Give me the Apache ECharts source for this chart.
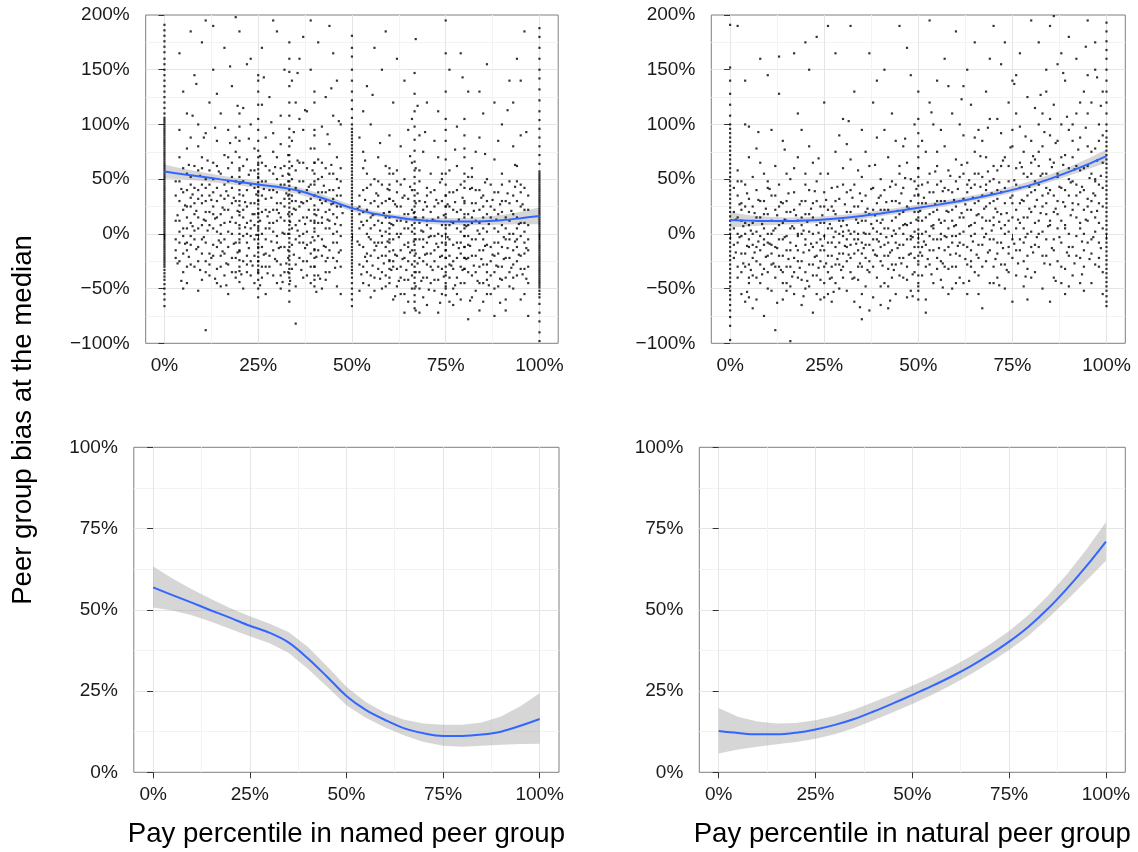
<!DOCTYPE html>
<html>
<head>
<meta charset="utf-8">
<script src="https://cdn.jsdelivr.net/npm/echarts@6/dist/echarts.min.js"></script>
<style>html,body{margin:0;padding:0;background:#fff;}#chart{width:1138px;height:852px;}</style>
</head>
<body>
<div id="chart"></div>
<script>
// ---------- tick labels ----------
const xTicks = [0, 25, 50, 75, 100];
const xTitles = ['Pay percentile in named peer group', 'Pay percentile in natural peer group'];
const yTitle = 'Peer group bias at the median';

// ---------- smoothed fit (percent) ----------
const smoothX = [0,5,10,15,20,25,30,35,40,45,50,55,60,65,70,75,80,85,90,95,100];
const namedFit   = [56.9,54.5,52.2,49.8,47.5,45.1,43.0,40.0,35.1,29.4,23.5,19.2,16.1,13.5,12.0,11.2,11.2,11.6,12.5,14.3,16.4];
const namedLower = [50.7,49.8,48.3,46.3,44.1,41.9,39.8,36.8,31.9,26.3,20.6,16.8,13.8,11.3,9.3,8.2,7.9,8.2,8.5,8.7,8.8];
const namedUpper = [63.3,59.6,56.3,53.3,50.5,48.0,45.8,43.2,38.6,32.6,26.3,21.6,18.3,16.2,15.0,14.6,14.6,15.3,17.2,20.3,24.3];
const naturalFit   = [12.7,12.1,11.7,11.7,12.2,13.2,14.6,16.4,18.7,21.2,23.8,26.5,29.4,32.6,36.2,40.2,44.8,50.3,56.6,63.5,71.0];
const naturalLower = [5.8,7.0,7.9,8.6,9.3,10.3,11.7,13.6,16.0,18.5,21.0,23.8,26.8,30.1,33.7,37.6,42.0,47.3,53.0,59.0,65.1];
const naturalUpper = [19.8,17.1,15.6,15.0,15.2,16.0,17.4,19.3,21.6,24.0,26.6,29.3,32.3,35.6,39.3,43.5,48.4,54.3,61.0,68.6,77.0];

// ---------- scatter: named peer group ----------
const namedCloud = [
[3,12],[3,-22],[3,48],[4,30],[4,-8],[4,95],[4,165],[5,22],[5,-35],[5,60],[5,5],[5,130],[6,-15],[6,40],[6,15],[6,78],[6,-45],[7,-2],[7,33],[7,185],[7,52],[7,-28],[4,70],[6,110],[3,-5],[5,-50],[7,10],[6,25],[4,2],[7,88],
[8,18],[8,-30],[8,62],[8,145],[9,5],[9,40],[9,-12],[9,100],[10,28],[10,-42],[10,70],[10,-5],[10,175],[11,12],[11,50],[11,-25],[11,-88],[11,92],[12,35],[12,-18],[12,8],[12,120],[12,58],[9,-52],[8,3],[10,45],[11,195],[12,-38],[9,80],[11,20],
[13,25],[13,-10],[13,65],[13,150],[14,2],[14,42],[14,-32],[14,85],[15,18],[15,55],[15,-20],[15,-48],[15,110],[16,32],[16,-5],[16,72],[16,170],[16,10],[17,48],[17,-28],[17,22],[17,95],[17,-55],[14,128],[13,38],[15,0],[16,-38],[17,60],[14,15],[13,190],
[18,15],[18,-22],[18,52],[18,135],[19,30],[19,-8],[19,75],[19,-40],[20,20],[20,40],[20,-15],[20,98],[20,185],[20,5],[20,60],[20,-30],[21,35],[21,-2],[21,115],[21,-50],[22,25],[22,68],[22,-20],[22,155],[22,10],[19,88],[18,0],[21,48],[22,-35],[19,198],
[23,12],[23,45],[23,-25],[23,100],[24,28],[24,-5],[24,78],[24,-45],[25,18],[25,52],[25,-12],[25,140],[26,35],[26,0],[26,65],[26,-30],[26,170],[27,22],[27,-18],[27,88],[27,48],[27,-55],[24,8],[23,160],[25,-35],[26,118],[27,5],[24,58],[23,-2],[25,30],
[28,20],[28,-20],[28,58],[28,125],[29,2],[29,40],[29,-38],[29,92],[30,28],[30,-8],[30,70],[30,185],[30,12],[31,45],[31,-28],[31,15],[31,108],[31,-50],[32,32],[32,-12],[32,62],[32,150],[32,0],[29,75],[28,5],[30,-45],[31,82],[32,25],[29,195],[30,50],
[33,18],[33,-15],[33,55],[34,30],[34,-32],[34,85],[34,5],[35,42],[35,-5],[35,120],[35,22],[35,-48],[36,12],[36,65],[36,-22],[36,160],[36,38],[37,0],[37,48],[37,-40],[37,95],[37,28],[34,140],[33,72],[35,-82],[36,-8],[37,180],[33,-35],[34,50],[36,105],
[38,15],[38,-25],[38,60],[38,112],[39,32],[39,-8],[39,78],[39,-45],[40,22],[40,-15],[40,48],[40,5],[40,130],[40,-30],[40,90],[41,38],[41,-2],[41,68],[41,175],[42,10],[42,-20],[42,52],[42,-50],[42,98],[39,195],[38,40],[41,-38],[42,28],[39,150],[40,65],
[43,20],[43,-12],[43,60],[43,125],[44,5],[44,40],[44,-35],[44,82],[45,28],[45,-22],[45,0],[45,165],[45,55],[46,15],[46,-8],[46,70],[46,-48],[46,35],[47,25],[47,-30],[47,48],[47,100],[44,190],[43,-42],[45,108],[46,140],[47,8],[44,22],[43,38],[47,-55],
[52,5],[52,-28],[52,35],[52,88],[53,-12],[53,20],[53,-45],[53,60],[54,0],[54,-35],[54,42],[54,135],[54,12],[55,-20],[55,28],[55,-5],[55,-58],[55,100],[56,8],[56,-40],[56,50],[56,-15],[56,170],[53,75],[52,-52],[54,-25],[55,15],[56,30],[53,112],[52,18],
[57,-8],[57,25],[57,-32],[57,70],[58,10],[58,-20],[58,45],[58,-50],[58,150],[59,2],[59,-38],[59,30],[59,-12],[60,15],[60,-25],[60,-5],[60,40],[60,-45],[60,90],[60,20],[61,-15],[61,8],[61,55],[61,-60],[61,120],[58,-2],[59,62],[57,48],[61,-30],[59,185],
[62,-20],[62,12],[62,38],[62,-48],[63,0],[63,-30],[63,25],[63,80],[64,-10],[64,18],[64,-42],[64,50],[64,140],[65,5],[65,-25],[65,32],[65,-62],[65,-8],[66,-15],[66,22],[66,-38],[66,65],[66,105],[63,-55],[62,58],[64,-72],[65,95],[66,2],[63,45],[62,160],
[67,-5],[67,28],[67,-35],[67,-70],[68,10],[68,-22],[68,48],[68,-50],[69,-12],[69,15],[69,-40],[69,75],[69,2],[70,-28],[70,35],[70,-8],[70,-65],[70,120],[71,20],[71,-18],[71,55],[71,-45],[68,90],[67,60],[69,-58],[70,8],[71,-2],[68,-72],[67,178],[70,42],
[72,-15],[72,12],[72,-42],[72,40],[73,0],[73,-30],[73,28],[73,70],[74,-20],[74,8],[74,-55],[74,50],[75,-10],[75,18],[75,-35],[75,5],[75,-48],[75,35],[75,95],[75,-22],[76,-5],[76,25],[76,-62],[76,58],[76,150],[73,-72],[74,-2],[72,85],[73,112],[76,-28],
[77,10],[77,-25],[77,38],[77,-50],[78,-8],[78,20],[78,-40],[78,62],[79,2],[79,-18],[79,45],[79,-60],[80,-12],[80,15],[80,-32],[80,28],[80,-2],[80,-45],[80,78],[81,8],[81,-22],[81,52],[81,-78],[81,130],[78,98],[79,-30],[77,-65],[80,105],[79,165],[81,-10],
[82,-5],[82,28],[82,-38],[82,60],[83,12],[83,-20],[83,-52],[83,40],[84,0],[84,-30],[84,22],[84,88],[85,-15],[85,35],[85,-45],[85,5],[85,-62],[85,110],[86,-10],[86,18],[86,-28],[86,50],[86,155],[83,75],[84,-70],[82,-58],[85,25],[86,-42],[84,130],[82,10],
[87,15],[87,-25],[87,45],[87,-55],[88,-8],[88,22],[88,-35],[88,-75],[88,68],[89,2],[89,-18],[89,38],[89,-48],[90,-12],[90,20],[90,-30],[90,55],[90,100],[91,5],[91,-40],[91,30],[91,-60],[92,-5],[92,12],[92,-22],[92,48],[92,140],[89,85],[88,120],[91,-70],
[93,0],[93,-28],[93,35],[93,-50],[94,15],[94,-12],[94,62],[94,-38],[94,160],[95,-2],[95,25],[95,-60],[95,-20],[95,90],[96,10],[96,-32],[96,42],[96,-8],[96,185],[97,-15],[97,22],[97,-45],[97,-75],[93,120],[95,45],[96,-55],[94,5],[93,80],[97,8],[95,140]
];
const namedCore = [
[3,35],[3,-15],[4,12],[4,48],[4,-25],[5,38],[5,-2],[6,5],[6,-30],[6,55],[7,25],[7,-10],[8,42],[8,-5],[8,28],[9,15],[9,-25],[9,58],[10,8],[10,35],[10,-18],[11,42],[11,-8],[11,30],[12,20],[12,-28],[12,45],[13,5],[13,-20],[13,50],[14,30],[14,-12],[14,62],[15,8],[15,35],[15,-30],[16,45],[16,-18],[16,22],[17,2],[17,35],[17,-12],[18,28],[18,-35],[18,65],[19,10],[19,48],[19,-22],[20,30],[20,-5],[20,52],[21,15],[21,-25],[21,62],[22,40],[22,-8],[22,0],[23,28],[23,-38],[23,58],[24,18],[24,42],[24,-20],[25,5],[25,38],[25,-25],[26,48],[26,-12],[26,20],[27,32],[27,-5],[27,62],[28,10],[28,40],[28,-30],[29,22],[29,-15],[29,55],[30,-2],[30,38],[30,-25],[31,28],[31,60],[31,-12],[32,12],[32,45],[32,-35],[33,35],[33,0],[33,-22],[34,18],[34,62],[34,-10],[35,30],[35,-28],[35,8],[36,48],[36,-2],[36,25],[37,15],[37,-25],[37,65],[38,30],[38,-10],[38,2],[39,45],[39,12],[39,-30],[40,35],[40,-42],[40,12],[41,22],[41,-15],[41,50],[42,38],[42,-5],[42,65],[43,5],[43,30],[43,-25],[44,55],[44,-15],[44,12],[45,40],[45,-8],[45,18],[46,-25],[46,50],[46,2],[47,35],[47,-15],[47,60],[5,-18],[7,45],[9,32],[11,-35],[13,18],[15,-8],[17,70],[19,-35],[21,22],[23,5],[25,65],[27,-30],[29,10],[31,-38],[33,48],[35,58],[37,-8],[39,-18],[41,10],[43,-35],[45,32],[47,-2],[6,-8],[10,60],[14,-45],[18,42],[22,-28],[26,-40],[30,22],[34,35],[38,-38],[42,15],[46,25],
[52,-10],[52,25],[53,-30],[53,8],[53,40],[54,-18],[54,22],[55,-38],[55,5],[55,45],[56,-8],[56,18],[57,-22],[57,12],[57,35],[58,-35],[58,28],[59,-20],[59,15],[59,-48],[60,5],[60,32],[61,-25],[61,-5],[61,30],[62,-32],[62,0],[62,25],[63,-15],[63,12],[63,-40],[64,5],[64,35],[64,-22],[65,-12],[65,18],[65,-42],[66,8],[66,-28],[66,40],[67,-18],[67,15],[67,-48],[68,-5],[68,30],[68,-35],[69,22],[69,-25],[69,-5],[70,12],[70,-40],[70,25],[71,-30],[71,5],[71,38],[72,-2],[72,-25],[72,25],[73,-12],[73,15],[73,-42],[74,30],[74,-32],[74,-8],[75,25],[75,-15],[76,8],[76,-40],[76,38],[77,-10],[77,22],[77,-32],[78,5],[78,-22],[78,40],[79,-8],[79,22],[79,-45],[80,5],[80,-22],[81,18],[81,-35],[81,-2],[82,-20],[82,15],[82,42],[83,-5],[83,28],[83,-35],[84,10],[84,-15],[84,-45],[85,-28],[85,15],[85,-5],[86,30],[86,-35],[86,2],[87,-12],[87,25],[87,-38],[88,5],[88,-20],[88,38],[89,-30],[89,18],[89,-8],[90,8],[90,-42],[90,30],[91,-22],[91,15],[91,-5],[92,28],[92,-35],[92,0],[93,-15],[93,18],[93,-40],[94,-25],[94,30],[94,-5],[95,10],[95,-32],[95,38],[96,-18],[96,22],[97,-5],[97,-30],[97,35],[54,55],[58,-8],[62,48],[66,-50],[70,-18],[74,55],[78,-55],[82,52],[86,-55],[90,45],[94,48],[56,-52],[60,55],[64,-55],[68,58],[72,-52],[76,-20],[80,48],[84,40],[88,-50],[92,-48],[96,2]
];
const namedExtra = [
[3.5,17],[3.5,-27],[4.5,41],[5.5,-9],[5.5,26],[6.5,63],[6.5,-21],[7.5,7],[7.5,36],[8.5,-14],[8.5,21],[9.5,53],[9.5,-33],[10.5,13],[10.5,-3],[11.5,67],[11.5,3],[12.5,-22],[12.5,31],[13.5,-41],[13.5,14],[14.5,57],[14.5,-6],[15.5,24],[15.5,-16],[16.5,39],[16.5,-27],[17.5,11],[17.5,83],[18.5,-9],[18.5,33],[19.5,-17],[19.5,21],[20.5,47],[20.5,-37],[21.5,6],[21.5,29],[22.5,-13],[22.5,54],[23.5,18],[23.5,-29],[24.5,36],[24.5,-1],[25.5,71],[25.5,12],[26.5,-19],[26.5,41],[27.5,-36],[27.5,16],[28.5,33],[28.5,-7],[29.5,61],[29.5,-23],[30.5,19],[30.5,-13],[31.5,53],[31.5,1],[32.5,-27],[32.5,37],[33.5,11],[33.5,-43],[34.5,23],[34.5,-19],[35.5,67],[35.5,3],[36.5,-33],[36.5,29],[37.5,9],[37.5,-13],[38.5,43],[38.5,22],[39.5,-3],[39.5,58],[40.5,-21],[40.5,17],[41.5,31],[41.5,-41],[42.5,-11],[42.5,44],[43.5,13],[43.5,-22],[44.5,27],[44.5,63],[45.5,-31],[45.5,9],[46.5,42],[46.5,-17],[47.5,19],[4.5,-43],[7.5,108],[10.5,88],[13.5,97],[16.5,-47],[19.5,117],[22.5,87],[25.5,-47],[28.5,102],[31.5,-44],[34.5,93],[37.5,113],[40.5,-53],[43.5,91],[46.5,103],[8.5,137],[17.5,153],[26.5,143],[35.5,147],[44.5,133],
[51.5,-7],[51.5,23],[52.5,-37],[52.5,11],[53.5,31],[53.5,-21],[54.5,-3],[54.5,-47],[55.5,17],[55.5,-29],[56.5,37],[56.5,-11],[57.5,3],[57.5,-41],[58.5,19],[58.5,-27],[59.5,41],[59.5,-7],[60.5,-33],[60.5,9],[61.5,27],[61.5,-19],[62.5,-43],[62.5,-3],[63.5,33],[63.5,-23],[64.5,11],[64.5,-33],[65.5,-17],[65.5,43],[66.5,-7],[66.5,19],[67.5,-27],[67.5,37],[68.5,3],[68.5,-43],[69.5,29],[69.5,-19],[70.5,-3],[70.5,-51],[71.5,13],[71.5,-33],[72.5,31],[72.5,-9],[73.5,-21],[73.5,47],[74.5,17],[74.5,-39],[75.5,-3],[75.5,27],[76.5,-29],[76.5,11],[77.5,-47],[77.5,29],[78.5,-13],[78.5,13],[79.5,-33],[79.5,33],[80.5,-23],[80.5,7],[81.5,41],[81.5,-11],[82.5,-29],[82.5,21],[83.5,-43],[83.5,3],[84.5,33],[84.5,-23],[85.5,-11],[85.5,47],[86.5,-47],[86.5,9],[87.5,-19],[87.5,31],[88.5,-29],[88.5,13],[89.5,-41],[89.5,27],[90.5,-3],[90.5,-23],[91.5,37],[91.5,-13],[92.5,-31],[92.5,21],[93.5,-7],[93.5,43],[94.5,-19],[94.5,9],[95.5,-37],[95.5,27],[96.5,-13],[96.5,-41],[53.5,67],[57.5,83],[61.5,-57],[65.5,71],[69.5,93],[73.5,-63],[77.5,77],[81.5,-61],[85.5,73],[89.5,-63],[93.5,63],[96.5,93],[55.5,127],[67.5,117],[79.5,143],[91.5,113]
];
const namedColumnX = [0, 20, 25, 33.3, 40, 50, 60, 66.7, 75, 80, 100];
const namedCol0 = [191,186,181,176,171,166,160,155,150,145,140,135,130,125,120,115,110,106,104,102,100,98,96,94,92,90,88,86,84,82,80,78,76,74,72,70,68,66,64,62,60,58,56,54,52,50,48,46,44,42,40,38,36,34,32,30,28,26,24,22,20,18,16,14,12,10,8,6,4,2,0,-2,-4,-6,-8,-10,-12,-14,-16,-18,-20,-22,-24,-26,-28,-30,-33,-36,-39,-42,-46,-50,-55,-60,-66];
const namedCol20 = [110,85,70,58,46,36,26,17,8,0,-8,-16,-24,-34,-44];
const namedCol25 = [145,130,118,105,95,85,76,70,63,59,55,51,47,43,39,35,31,27,23,19,15,11,7,3,-1,-5,-9,-13,-17,-21,-25,-29,-33,-36,-42,-50,-58];
const namedCol33 = [175,160,148,135,120,108,96,88,80,72,66,60,54,48,44,40,36,32,28,24,20,16,12,8,4,0,-4,-8,-12,-16,-20,-24,-28,-32,-36,-40,-46,-52,-62];
const namedCol40 = [120,95,78,65,55,45,35,26,18,10,2,-6,-14,-22,-30,-38,-48];
const namedCol50 = [181,170,162,150,140,130,122,114,106,100,96,93,90,87,84,81,78,75,72,69,66,63,60,57,54,51,48,45,42,39,36,33,30,27,24,21,18,15,12,9,6,3,0,-3,-6,-9,-12,-15,-18,-21,-24,-27,-30,-33,-36,-40,-45,-50,-55,-60,-66];
const namedCol60 = [60,45,32,20,10,0,-8,-16,-24,-32,-40];
const namedCol67 = [147,128,112,98,86,76,66,58,52,46,40,35,30,25,20,15,10,5,0,-5,-10,-15,-20,-25,-30,-35,-40,-45,-50,-56,-62,-68];
const namedCol75 = [195,165,130,105,85,68,55,45,35,25,15,8,0,-8,-15,-22,-30,-38,-45,-50,-56];
const namedCol80 = [90,70,55,42,30,18,8,-2,-12,-22,-32];
const namedCol100 = [188,180,170,160,150,142,132,122,112,104,96,88,80,72,64,57,55,53,51,49,47,45,43,41,39,37,35,33,31,29,27,25,23,21,19,17,15,13,11,9,7,5,3,1,-1,-3,-5,-7,-9,-11,-13,-15,-17,-19,-21,-23,-25,-27,-29,-31,-33,-35,-37,-39,-41,-43,-45,-47,-49,-52,-55,-58,-64,-72,-80,-90,-98];

// ---------- scatter: natural peer group ----------
const naturalCloud = [
[1,5],[1,-22],[2,35],[2,-8],[2,58],[2,190],[3,-35],[3,12],[3,-55],[3,28],[4,0],[4,-18],[4,100],[4,45],[4,140],[5,-12],[5,20],[5,-40],[5,70],[5,-5],[2,-30],[3,48],[4,-62],[5,8],[1,42],[3,-2],[4,25],[5,-28],[2,15],[5,98],
[6,-10],[6,25],[6,-38],[6,52],[7,2],[7,-25],[7,40],[7,-60],[8,15],[8,-15],[8,65],[8,-45],[8,160],[9,-5],[9,30],[9,-32],[9,5],[10,-20],[10,18],[10,-50],[10,48],[10,145],[7,78],[6,-68],[9,-75],[8,-2],[10,-8],[6,10],[9,55],[7,-12],
[11,0],[11,-28],[11,35],[11,-52],[12,-12],[12,22],[12,-40],[12,62],[12,-88],[13,8],[13,-20],[13,45],[13,162],[14,-5],[14,28],[14,-35],[14,-60],[14,85],[15,12],[15,-15],[15,-45],[15,55],[15,-2],[11,95],[13,-30],[12,5],[14,10],[15,30],[11,-10],[13,128],
[16,-8],[16,20],[16,-30],[16,50],[16,-98],[17,5],[17,-22],[17,38],[17,-55],[17,165],[18,-15],[18,12],[18,-40],[18,70],[19,0],[19,-25],[19,30],[19,-65],[19,95],[20,-10],[20,18],[20,-35],[20,45],[20,175],[18,-2],[17,60],[16,-48],[19,8],[20,-50],[18,110],
[21,2],[21,-28],[21,40],[21,-48],[22,-12],[22,15],[22,-38],[22,65],[22,-72],[23,8],[23,-20],[23,30],[23,180],[24,-5],[24,25],[24,-42],[24,55],[24,-60],[25,10],[25,-15],[25,38],[25,-30],[25,120],[21,80],[23,-55],[22,0],[24,-25],[25,-2],[21,150],[23,48],
[26,-8],[26,22],[26,-35],[26,55],[27,5],[27,-20],[27,42],[27,-62],[28,-12],[28,18],[28,-45],[28,75],[28,165],[29,0],[29,-28],[29,32],[29,-8],[30,-18],[30,12],[30,-40],[30,60],[30,105],[27,-30],[26,-55],[29,90],[28,2],[30,-2],[27,25],[29,-50],[26,190],
[31,8],[31,-25],[31,38],[31,-52],[32,-10],[32,20],[32,-35],[32,68],[33,2],[33,-18],[33,45],[33,130],[33,-62],[34,-5],[34,25],[34,-42],[34,-15],[35,12],[35,-30],[35,52],[35,-78],[35,95],[32,0],[31,82],[34,58],[33,-40],[35,-8],[32,190],[34,10],[31,-5],
[36,0],[36,-22],[36,35],[36,-48],[37,-10],[37,18],[37,-35],[37,62],[38,5],[38,-15],[38,42],[38,-58],[38,120],[39,-5],[39,28],[39,-40],[39,88],[40,10],[40,-25],[40,50],[40,-12],[40,-65],[37,165],[36,75],[39,2],[38,-30],[40,22],[36,12],[37,-70],[39,140],
[41,5],[41,-20],[41,40],[41,-45],[42,-8],[42,22],[42,-32],[42,70],[42,-68],[43,12],[43,-15],[43,48],[43,110],[44,0],[44,-28],[44,30],[44,-55],[44,85],[45,18],[45,-10],[45,55],[45,-38],[45,190],[41,95],[43,-2],[44,15],[42,-48],[45,5],[41,150],[43,-40],
[46,8],[46,-22],[46,42],[46,-40],[47,-5],[47,25],[47,-30],[47,65],[47,170],[48,10],[48,-18],[48,50],[48,-52],[49,2],[49,-12],[49,35],[49,100],[49,-35],[50,15],[50,-25],[50,60],[50,-8],[50,130],[46,80],[48,-2],[47,-58],[49,20],[46,0],[48,145],[50,-45],
[51,12],[51,-20],[51,45],[51,-38],[52,2],[52,28],[52,-10],[52,75],[52,-60],[53,18],[53,-28],[53,55],[53,195],[54,5],[54,-15],[54,38],[54,-45],[54,100],[55,22],[55,-5],[55,62],[55,-32],[55,140],[51,85],[53,-2],[52,-72],[54,8],[55,30],[51,0],[53,120],
[56,10],[56,-25],[56,48],[56,-42],[57,-2],[57,30],[57,-15],[57,80],[57,160],[58,20],[58,-32],[58,58],[58,5],[59,-8],[59,38],[59,-50],[59,110],[59,12],[60,25],[60,-18],[60,68],[60,-2],[60,185],[56,95],[58,-55],[57,42],[59,-30],[60,8],[56,-5],[58,135],
[61,15],[61,-20],[61,52],[61,-40],[62,2],[62,32],[62,-10],[62,90],[63,22],[63,-28],[63,65],[63,-55],[63,150],[64,8],[64,-15],[64,42],[64,118],[64,-2],[65,28],[65,-35],[65,75],[65,10],[65,175],[61,100],[62,-45],[63,45],[64,-30],[65,55],[62,135],[61,0],
[66,18],[66,-22],[66,55],[66,-38],[67,5],[67,35],[67,-10],[67,85],[67,-68],[68,25],[68,-25],[68,70],[68,130],[68,0],[69,12],[69,-15],[69,48],[69,-45],[69,105],[70,30],[70,-5],[70,62],[70,-30],[70,190],[66,95],[67,15],[68,45],[69,160],[70,8],[66,-55],
[71,20],[71,-18],[71,58],[71,-40],[72,5],[72,38],[72,-8],[72,92],[72,155],[73,28],[73,-28],[73,70],[73,-50],[74,12],[74,-12],[74,48],[74,120],[74,2],[75,35],[75,-22],[75,80],[75,15],[75,-62],[71,105],[72,62],[73,0],[74,-35],[75,140],[71,40],[73,175],
[76,22],[76,-15],[76,60],[76,-38],[77,10],[77,42],[77,-5],[77,98],[77,165],[78,30],[78,-25],[78,75],[78,-48],[79,15],[79,0],[79,52],[79,125],[79,-32],[80,38],[80,-12],[80,85],[80,20],[80,195],[76,110],[77,65],[78,5],[79,-60],[80,55],[76,145],[78,-8],
[81,25],[81,-10],[81,68],[81,-35],[82,12],[82,45],[82,0],[82,100],[82,175],[83,35],[83,-20],[83,80],[83,-50],[84,18],[84,-5],[84,55],[84,130],[84,28],[85,40],[85,-28],[85,90],[85,8],[85,-62],[81,115],[82,62],[83,2],[84,150],[85,190],[81,48],[83,110],
[86,20],[86,-15],[86,65],[86,-40],[87,30],[87,5],[87,85],[87,-25],[87,155],[88,42],[88,-8],[88,100],[88,12],[89,25],[89,-32],[89,72],[89,140],[89,-55],[90,35],[90,0],[90,95],[90,-20],[90,180],[86,118],[87,52],[88,-45],[89,8],[90,60],[86,199],[88,165],
[91,28],[91,-12],[91,70],[91,-38],[92,15],[92,45],[92,-2],[92,110],[92,160],[93,38],[93,-22],[93,88],[93,5],[94,22],[94,-30],[94,60],[94,130],[94,-52],[95,32],[95,-8],[95,80],[95,12],[95,195],[91,100],[92,62],[93,-45],[94,0],[95,145],[91,48],[93,120],
[96,20],[96,-18],[96,55],[96,-45],[97,35],[97,2],[97,78],[97,-28],[97,150],[98,10],[98,45],[98,-8],[98,100],[99,25],[99,-35],[99,65],[99,-55],[96,120],[97,175],[98,85],[99,5],[96,30],[98,-22],[99,130],[97,50]
];
const naturalCore = [
[1,-10],[1,20],[2,0],[2,-40],[3,22],[3,-18],[4,10],[4,-30],[5,32],[5,-45],[6,0],[6,-22],[7,15],[7,-40],[8,30],[8,-28],[9,-10],[9,18],[10,0],[10,-35],[11,12],[11,-18],[12,-30],[12,35],[13,-5],[13,25],[14,-20],[14,-45],[15,20],[15,-30],[16,5],[16,-15],[17,-35],[17,22],[18,0],[18,-25],[19,15],[19,-42],[20,-5],[20,30],[21,-15],[21,18],[22,-28],[22,28],[23,-8],[23,-38],[24,10],[24,-15],[25,-45],[25,25],[26,5],[26,-20],[27,-8],[27,-40],[28,30],[28,-28],[29,12],[29,-18],[30,2],[30,-30],[31,-12],[31,20],[32,-22],[32,40],[33,-5],[33,25],[34,-30],[34,0],[35,-18],[35,30],[36,-10],[36,20],[37,0],[37,-25],[38,22],[38,-5],[39,-20],[39,12],[40,35],[40,0],[41,-10],[41,22],[42,5],[42,-20],[43,30],[43,-28],[44,-8],[44,45],[45,-22],[45,28],[46,20],[46,-10],[47,8],[47,-42],[48,30],[48,-5],[49,-22],[49,48],[50,0],[50,35],[51,-12],[51,28],[52,15],[52,-30],[53,38],[53,-15],[54,20],[54,-5],[55,45],[55,-22],[56,0],[56,30],[57,-30],[57,12],[58,40],[58,-12],[59,22],[59,-2],[60,48],[60,-30],[61,30],[61,-8],[62,55],[62,15],[63,-12],[63,38],[64,22],[64,-25],[65,45],[65,0],[66,30],[66,-10],[67,52],[67,-30],[68,12],[68,40],[69,-5],[69,28],[70,50],[70,15],[71,-8],[71,32],[72,18],[72,-28],[73,42],[73,8],[74,62],[74,-18],[75,28],[75,-5],[76,45],[76,5],[77,-15],[77,28],[78,55],[78,15],[79,35],[79,-20],[80,65],[80,2],[81,40],[81,10],[82,-12],[82,75],[83,25],[83,55],[84,-20],[84,42],[85,12],[85,68],[86,35],[86,-5],[87,55],[87,18],[88,-30],[88,70],[89,40],[89,5],[90,-12],[90,50],[91,22],[91,85],[92,-20],[92,35],[93,58],[93,10],[94,40],[94,-15],[95,62],[95,25],[96,-5],[96,75],[97,15],[97,48],[98,28],[98,-30],[99,42],[99,90],
[2,48],[5,-58],[10,42],[15,-52],[20,55],[25,-58],[30,45],[35,-55],[40,-48],[45,62],[50,-52],[55,75],[60,-45],[65,88],[70,-45],[75,95],[80,-40],[85,105],[90,-48],[95,110]
];
const naturalExtra = [
[1.5,-17],[1.5,13],[2.5,-3],[2.5,27],[3.5,-27],[3.5,7],[4.5,-11],[4.5,37],[5.5,-33],[5.5,3],[6.5,19],[6.5,-17],[7.5,-7],[7.5,31],[8.5,-37],[8.5,9],[9.5,-21],[9.5,23],[10.5,-9],[10.5,41],[11.5,-27],[11.5,3],[12.5,17],[12.5,-13],[13.5,-33],[13.5,29],[14.5,-3],[14.5,13],[15.5,-23],[15.5,37],[16.5,7],[16.5,-39],[17.5,-11],[17.5,17],[18.5,-31],[18.5,27],[19.5,3],[19.5,-17],[20.5,-43],[20.5,11],[21.5,23],[21.5,-9],[22.5,-21],[22.5,39],[23.5,1],[23.5,-31],[24.5,17],[24.5,-11],[25.5,-27],[25.5,31],[26.5,9],[26.5,-41],[27.5,-3],[27.5,21],[28.5,-23],[28.5,43],[29.5,7],[29.5,-33],[30.5,-11],[30.5,27],[31.5,-19],[31.5,3],[32.5,33],[32.5,-41],[33.5,-9],[33.5,13],[34.5,-27],[34.5,37],[35.5,1],[35.5,-13],[36.5,23],[36.5,-33],[37.5,9],[37.5,41],[38.5,-19],[38.5,17],[39.5,-7],[39.5,33],[40.5,-29],[40.5,13],[41.5,29],[41.5,-3],[42.5,-17],[42.5,43],[43.5,3],[43.5,-33],[44.5,21],[44.5,-13],[45.5,37],[45.5,-27],[46.5,9],[46.5,51],[47.5,-19],[47.5,23],[48.5,-3],[48.5,-37],[49.5,13],[49.5,41],[50.5,-17],[50.5,21],[51.5,33],[51.5,-7],[52.5,47],[52.5,-23],[53.5,7],[53.5,-37],[54.5,27],[54.5,57],[55.5,-13],[55.5,13],[56.5,39],[56.5,-27],[57.5,21],[57.5,-3],[58.5,53],[58.5,-19],[59.5,31],[59.5,7],[60.5,-11],[60.5,41],[61.5,19],[61.5,63],[62.5,-23],[62.5,27],[63.5,7],[63.5,49],[64.5,-7],[64.5,33],[65.5,-19],[65.5,17],[66.5,43],[66.5,71],[67.5,-3],[67.5,23],[68.5,57],[68.5,-17],[69.5,37],[69.5,3],[70.5,-23],[70.5,23],[71.5,47],[71.5,11],[72.5,-13],[72.5,67],[73.5,19],[73.5,-33],[74.5,33],[74.5,79],[75.5,-9],[75.5,49],[76.5,13],[76.5,-27],[77.5,61],[77.5,31],[78.5,-3],[78.5,89],[79.5,23],[79.5,43],[80.5,-17],[80.5,71],[81.5,31],[81.5,-3],[82.5,53],[82.5,19],[83.5,-27],[83.5,93],[84.5,37],[84.5,7],[85.5,61],[85.5,-13],[86.5,23],[86.5,83],[87.5,43],[87.5,-3],[88.5,29],[88.5,63],[89.5,-17],[89.5,107],[90.5,17],[90.5,47],[91.5,-27],[91.5,59],[92.5,27],[92.5,77],[93.5,-7],[93.5,43],[94.5,13],[94.5,97],[95.5,-23],[95.5,51],[96.5,37],[96.5,-3],[97.5,67],[97.5,21],[98.5,-13],[98.5,53],[98.5,117],
[7.5,93],[14.5,77],[23.5,69],[31.5,103],[38.5,63],[46.5,87],[53.5,111],[61.5,123],[68.5,97],[75.5,137],[82.5,127],[88.5,147],[94.5,171],[97.5,143],
[4.5,-53],[12.5,-63],[19.5,-57],[27.5,-53],[34.5,-67],[42.5,-61],[48.5,-57],[56.5,-49],[63.5,-43],[71.5,-47],[78.5,-39],[86.5,-43],[93.5,-37]
];
const naturalColumnX = [0, 50, 100];
const naturalCol0 = [191,152,140,128,118,108,100,96,92,88,84,80,76,72,68,64,60,56,52,48,44,40,36,32,28,24,20,16,12,8,4,0,-4,-8,-12,-16,-20,-24,-28,-32,-36,-40,-44,-48,-52,-56,-60,-65,-70,-76,-84,-97];
const naturalCol50 = [105,92,80,70,60,52,44,36,28,20,12,4,-4,-12,-20,-28,-38,-48,-60];
const naturalCol100 = [193,185,176,168,160,150,140,130,120,110,100,94,88,84,80,76,72,68,64,60,56,52,48,44,40,36,32,28,24,20,16,12,8,4,0,-4,-8,-12,-16,-20,-24,-28,-32,-36,-40,-44,-48,-52,-57,-62,-66];

// ---------- build ----------
const FONT = '"Liberation Sans", Arial, Helvetica, sans-serif';
const pct = v => (v < 0 ? '\u2212' + (-v) : v) + '%';

function columnPoints(xs, cols) {
  const out = [];
  xs.forEach((x, i) => cols[i].forEach(y => out.push([x, y])));
  return out;
}
const namedPoints = namedCloud.concat(namedCore, namedExtra, columnPoints(namedColumnX,
  [namedCol0, namedCol20, namedCol25, namedCol33, namedCol40, namedCol50, namedCol60, namedCol67, namedCol75, namedCol80, namedCol100]));
const naturalPoints = naturalCloud.concat(naturalCore, naturalExtra, columnPoints(naturalColumnX, [naturalCol0, naturalCol50, naturalCol100]));

const grids = [
  {left: 145.7, top: 15, width: 412.5, height: 328.3},
  {left: 711.3, top: 15, width: 414, height: 328.3},
  {left: 133.8, top: 447.3, width: 425.2, height: 325},
  {left: 699.3, top: 447.3, width: 426, height: 325}
];
const gridOpts = grids.map(g => Object.assign({
  show: true, backgroundColor: '#fff', borderColor: '#7f7f7f', borderWidth: 1,
  containLabel: false, outerBoundsMode: 'none'
}, g));

const MAJOR = '#e5e5e5', MINOR = '#f3f3f3';
const T = 'rgba(0,0,0,0)';
// hidden axis ticks every 2.5 starting at -5: index%10==2 -> major (0,25,..), index%10==7 -> minor (12.5,..)
const gridColors = [T, T, MAJOR, T, T, T, T, MINOR, T, T];

const xAxes = [], yAxes = [], series = [];
const labelStyle = {fontSize: 19, color: '#1a1a1a', fontFamily: FONT};
for (let i = 0; i < 4; i++) {
  const bottom = i >= 2;
  xAxes.push({
    type: 'value', gridIndex: i, min: -5, max: 105, position: 'bottom',
    axisLine: {show: false},
    axisTick: {show: true, length: 6, customValues: xTicks, lineStyle: {color: '#333', width: 1}},
    axisLabel: Object.assign({show: true, margin: 13, customValues: xTicks, formatter: pct}, labelStyle),
    splitLine: {show: false},
    name: bottom ? xTitles[i - 2] : '',
    nameLocation: 'middle', nameGap: 61.6,
    nameTextStyle: {fontSize: 27.6, color: '#000', fontFamily: FONT, verticalAlign: 'middle'}
  });
  xAxes.push({
    type: 'value', gridIndex: i, min: -5, max: 105, interval: 2.5, position: 'top',
    axisLine: {show: false}, axisTick: {show: false}, axisLabel: {show: false},
    splitLine: {show: true, lineStyle: {color: gridColors, width: 1}}
  });
  yAxes.push({
    type: 'value', gridIndex: i,
    min: bottom ? 0 : -100, max: bottom ? 100 : 200, interval: bottom ? 25 : 50,
    axisLine: {show: false},
    axisTick: {show: true, length: 6, lineStyle: {color: '#333', width: 1}},
    axisLabel: Object.assign({margin: 16, formatter: pct}, labelStyle),
    splitLine: {show: true, showMinLine: false, showMaxLine: false, lineStyle: {color: MAJOR, width: 1}},
    minorTick: {show: false, splitNumber: 2},
    minorSplitLine: {show: true, lineStyle: {color: MINOR, width: 1}}
  });
}

function addPanel(i, points, fit, lower, upper) {
  const xi = 2 * i;
  if (points) {
    series.push({
      type: 'scatter', xAxisIndex: xi, yAxisIndex: i, data: points,
      symbol: 'rect', symbolSize: 2.2, itemStyle: {color: '#000'}, silent: true
    });
  }
  // confidence band: one polygon through the band bounds, positioned by the axes
  series.push({
    type: 'custom', xAxisIndex: xi, yAxisIndex: i, silent: true,
    data: smoothX.map((x, k) => [x, lower[k], upper[k]]),
    encode: {x: 0, y: [1, 2]},
    renderItem: function (params, api) {
      if (params.dataIndex !== 0) return null;
      const pts = [];
      for (let k = 0; k < smoothX.length; k++) pts.push(api.coord([smoothX[k], upper[k]]));
      for (let k = smoothX.length - 1; k >= 0; k--) pts.push(api.coord([smoothX[k], lower[k]]));
      return {type: 'polygon', shape: {points: pts}, style: {fill: 'rgba(153,153,153,0.4)', stroke: null}};
    }
  });
  series.push({
    type: 'line', xAxisIndex: xi, yAxisIndex: i, smooth: 0.35,
    data: smoothX.map((x, k) => [x, fit[k]]),
    showSymbol: false, symbol: 'none', lineStyle: {color: '#3366FF', width: 2}, silent: true
  });
}
addPanel(0, namedPoints, namedFit, namedLower, namedUpper);
addPanel(1, naturalPoints, naturalFit, naturalLower, naturalUpper);
addPanel(2, null, namedFit, namedLower, namedUpper);
addPanel(3, null, naturalFit, naturalLower, naturalUpper);

const chart = echarts.init(document.getElementById('chart'), null, {renderer: 'canvas'});
chart.setOption({
  animation: false,
  backgroundColor: '#fff',
  grid: gridOpts,
  xAxis: xAxes,
  yAxis: yAxes,
  series: series,
  graphic: [{
    type: 'text', x: 23, y: 420, rotation: Math.PI / 2, silent: true,
    style: {text: yTitle, fontSize: 27.6, fontFamily: FONT, fill: '#000',
            align: 'center', verticalAlign: 'middle', textAlign: 'center', textVerticalAlign: 'middle'}
  }]
});
</script>
</body>
</html>
